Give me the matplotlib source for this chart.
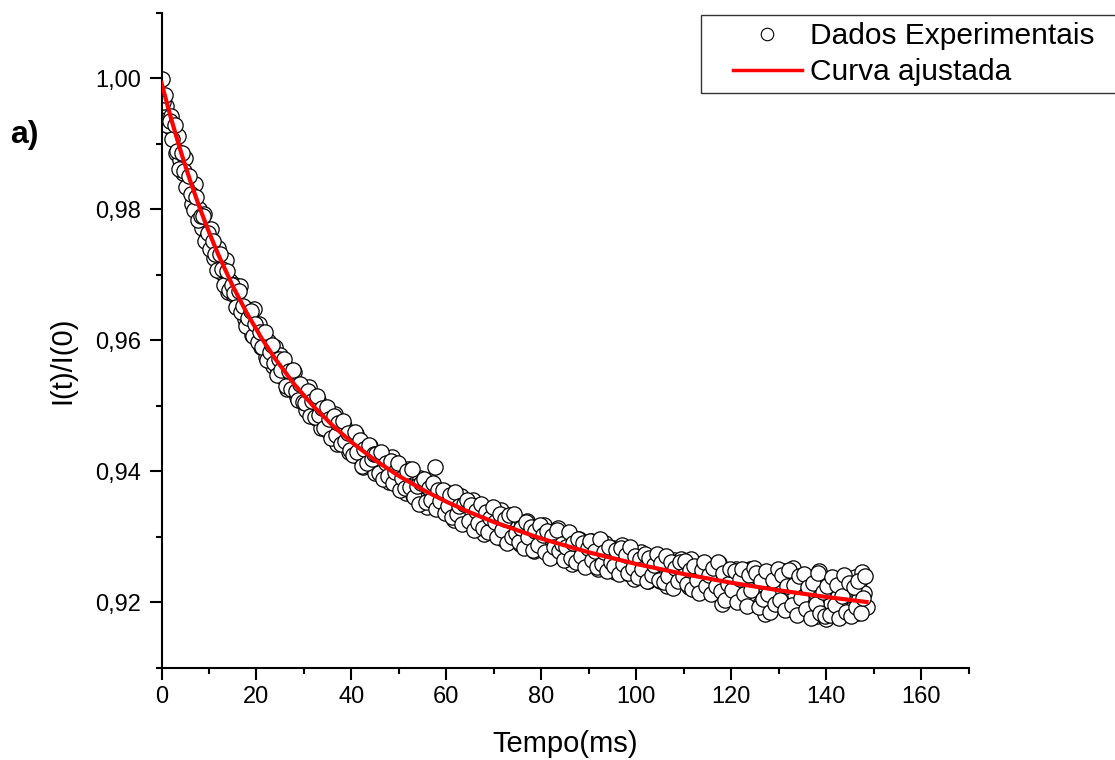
import numpy as np
import matplotlib
matplotlib.use("Agg")
import matplotlib.pyplot as plt
from matplotlib.ticker import FixedLocator, FuncFormatter
from matplotlib.patches import Rectangle
from matplotlib.lines import Line2D

plt.rcParams['font.family'] = ['Liberation Sans', 'DejaVu Sans']

# experimental points read off the figure, sampled every 0.25 ms
# (two interleaved lists: t = 0, 0.5, 1, ... and t = 0.25, 0.75, ...)
dt = 0.5
intensidade_a = [
    0.9999, 0.9949, 0.9957, 0.9927, 0.9943, 0.9908, 0.9886, 0.9912, 0.9875, 0.9856,
    0.9878, 0.9835, 0.9838, 0.9808, 0.9839, 0.9799, 0.9800, 0.9771, 0.9792, 0.9757,
    0.9756, 0.9770, 0.9726, 0.9734, 0.9741, 0.9704, 0.9707, 0.9723, 0.9674, 0.9690,
    0.9670, 0.9685, 0.9650, 0.9683, 0.9649, 0.9632, 0.9648, 0.9623, 0.9608, 0.9647,
    0.9608, 0.9625, 0.9590, 0.9602, 0.9574, 0.9599, 0.9579, 0.9560, 0.9589, 0.9556,
    0.9577, 0.9544, 0.9556, 0.9526, 0.9555, 0.9531, 0.9551, 0.9513, 0.9524, 0.9510,
    0.9526, 0.9493, 0.9528, 0.9496, 0.9502, 0.9481, 0.9509, 0.9466, 0.9492, 0.9477,
    0.9461, 0.9487, 0.9467, 0.9487, 0.9442, 0.9466, 0.9446, 0.9469, 0.9443, 0.9429,
    0.9455, 0.9441, 0.9457, 0.9421, 0.9435, 0.9407, 0.9439, 0.9415, 0.9438, 0.9407,
    0.9397, 0.9422, 0.9411, 0.9426, 0.9393, 0.9409, 0.9384, 0.9421, 0.9390, 0.9381,
    0.9407, 0.9381, 0.9394, 0.9367, 0.9403, 0.9379, 0.9364, 0.9389, 0.9368, 0.9389,
    0.9360, 0.9377, 0.9346, 0.9379, 0.9360, 0.9407, 0.9345, 0.9368, 0.9346, 0.9358,
    0.9369, 0.9338, 0.9354, 0.9326, 0.9358, 0.9338, 0.9362, 0.9325, 0.9342, 0.9329,
    0.9332, 0.9356, 0.9316, 0.9341, 0.9318, 0.9345, 0.9304, 0.9330, 0.9337, 0.9315,
    0.9305, 0.9331, 0.9314, 0.9341, 0.9297, 0.9321, 0.9303, 0.9331, 0.9310, 0.9295,
    0.9318, 0.9289, 0.9321, 0.9297, 0.9324, 0.9291, 0.9302, 0.9278, 0.9315, 0.9293,
    0.9283, 0.9318, 0.9292, 0.9306, 0.9272, 0.9299, 0.9281, 0.9313, 0.9272, 0.9291,
    0.9299, 0.9275, 0.9303, 0.9258, 0.9288, 0.9267, 0.9297, 0.9275, 0.9259, 0.9287,
    0.9268, 0.9293, 0.9258, 0.9278, 0.9250, 0.9285, 0.9267, 0.9291, 0.9257, 0.9275,
    0.9282, 0.9246, 0.9274, 0.9253, 0.9287, 0.9257, 0.9245, 0.9273, 0.9258, 0.9235,
    0.9264, 0.9244, 0.9277, 0.9249, 0.9266, 0.9233, 0.9257, 0.9269, 0.9237, 0.9259,
    0.9233, 0.9254, 0.9263, 0.9224, 0.9257, 0.9237, 0.9265, 0.9240, 0.9232, 0.9266,
    0.9237, 0.9254, 0.9223, 0.9266, 0.9231, 0.9218, 0.9246, 0.9253, 0.9224, 0.9240,
    0.9225, 0.9256, 0.9231, 0.9244, 0.9220, 0.9260, 0.9197, 0.9224, 0.9244, 0.9210,
    0.9238, 0.9214, 0.9251, 0.9222, 0.9206, 0.9241, 0.9228, 0.9208, 0.9251, 0.9216,
    0.9210, 0.9241, 0.9198, 0.9228, 0.9182, 0.9232, 0.9209, 0.9244, 0.9214, 0.9200,
    0.9230, 0.9196, 0.9247, 0.9208, 0.9232, 0.9190, 0.9252, 0.9211, 0.9196, 0.9235,
    0.9206, 0.9227, 0.9184, 0.9236, 0.9198, 0.9217, 0.9179, 0.9248, 0.9189, 0.9218,
    0.9175, 0.9223, 0.9199, 0.9229, 0.9182, 0.9209, 0.9232, 0.9189, 0.9214, 0.9183,
    0.9221, 0.9190, 0.9238, 0.9183, 0.9231, 0.9246, 0.9214, 0.9193,
]
intensidade_b = [
    0.9964, 0.9975, 0.9928, 0.9935, 0.9907, 0.9928, 0.9889, 0.9862, 0.9886, 0.9858,
    0.9834, 0.9850, 0.9823, 0.9799, 0.9818, 0.9784, 0.9789, 0.9790, 0.9751, 0.9764,
    0.9740, 0.9752, 0.9731, 0.9707, 0.9732, 0.9709, 0.9685, 0.9706, 0.9677, 0.9684,
    0.9672, 0.9650, 0.9675, 0.9643, 0.9652, 0.9621, 0.9634, 0.9644, 0.9607, 0.9624,
    0.9597, 0.9613, 0.9590, 0.9613, 0.9570, 0.9582, 0.9592, 0.9565, 0.9547, 0.9571,
    0.9555, 0.9571, 0.9530, 0.9553, 0.9526, 0.9555, 0.9523, 0.9508, 0.9533, 0.9505,
    0.9504, 0.9523, 0.9485, 0.9507, 0.9482, 0.9515, 0.9486, 0.9496, 0.9466, 0.9498,
    0.9479, 0.9451, 0.9485, 0.9455, 0.9474, 0.9441, 0.9477, 0.9446, 0.9458, 0.9433,
    0.9425, 0.9460, 0.9429, 0.9448, 0.9408, 0.9434, 0.9412, 0.9440, 0.9418, 0.9426,
    0.9427, 0.9398, 0.9430, 0.9388, 0.9413, 0.9392, 0.9415, 0.9382, 0.9399, 0.9412,
    0.9371, 0.9389, 0.9374, 0.9401, 0.9376, 0.9403, 0.9361, 0.9378, 0.9350, 0.9382,
    0.9388, 0.9353, 0.9375, 0.9356, 0.9382, 0.9342, 0.9372, 0.9355, 0.9372, 0.9336,
    0.9347, 0.9363, 0.9330, 0.9369, 0.9334, 0.9347, 0.9320, 0.9350, 0.9356, 0.9324,
    0.9349, 0.9310, 0.9339, 0.9321, 0.9350, 0.9314, 0.9337, 0.9307, 0.9329, 0.9345,
    0.9322, 0.9300, 0.9334, 0.9310, 0.9327, 0.9290, 0.9333, 0.9300, 0.9335, 0.9306,
    0.9292, 0.9314, 0.9283, 0.9323, 0.9299, 0.9315, 0.9280, 0.9309, 0.9287, 0.9318,
    0.9303, 0.9277, 0.9308, 0.9267, 0.9301, 0.9284, 0.9310, 0.9278, 0.9289, 0.9265,
    0.9285, 0.9307, 0.9268, 0.9291, 0.9262, 0.9297, 0.9271, 0.9291, 0.9254, 0.9282,
    0.9294, 0.9265, 0.9278, 0.9254, 0.9297, 0.9258, 0.9277, 0.9248, 0.9284, 0.9262,
    0.9256, 0.9280, 0.9243, 0.9283, 0.9259, 0.9272, 0.9245, 0.9284, 0.9252, 0.9271,
    0.9238, 0.9266, 0.9250, 0.9273, 0.9232, 0.9267, 0.9241, 0.9257, 0.9273, 0.9234,
    0.9260, 0.9231, 0.9271, 0.9240, 0.9262, 0.9221, 0.9252, 0.9232, 0.9262, 0.9240,
    0.9263, 0.9228, 0.9249, 0.9220, 0.9256, 0.9234, 0.9214, 0.9249, 0.9261, 0.9225,
    0.9241, 0.9213, 0.9252, 0.9225, 0.9261, 0.9217, 0.9244, 0.9204, 0.9228, 0.9251,
    0.9219, 0.9248, 0.9201, 0.9235, 0.9251, 0.9212, 0.9194, 0.9242, 0.9219, 0.9252,
    0.9245, 0.9193, 0.9232, 0.9205, 0.9247, 0.9213, 0.9185, 0.9234, 0.9197, 0.9250,
    0.9203, 0.9242, 0.9188, 0.9225, 0.9249, 0.9195, 0.9227, 0.9181, 0.9240, 0.9207,
    0.9243, 0.9190, 0.9223, 0.9176, 0.9230, 0.9198, 0.9245, 0.9184, 0.9216, 0.9179,
    0.9224, 0.9180, 0.9239, 0.9195, 0.9227, 0.9176, 0.9210, 0.9241, 0.9185, 0.9229,
    0.9179, 0.9223, 0.9192, 0.9232, 0.9184, 0.9207, 0.9240,
]
tempo_a = np.arange(len(intensidade_a)) * dt
tempo_b = np.arange(len(intensidade_b)) * dt + dt / 2
tempo = np.concatenate([tempo_a, tempo_b])
intensidade = np.concatenate([intensidade_a, intensidade_b])

# fitted curve, sampled from the red line
tempo_ajuste = [0, 2, 4, 6, 8, 10, 12, 15, 18, 21, 24, 28, 32, 36, 40, 45, 50,
                55, 60, 65, 70, 80, 90, 100, 110, 120, 130, 140, 148.5]
curva_ajuste = [0.99928, 0.99388, 0.98895, 0.98443, 0.98029, 0.97649, 0.97300,
                0.96828, 0.96410, 0.96040, 0.95711, 0.95324, 0.94991, 0.94701,
                0.94445, 0.94167, 0.93927, 0.93718, 0.93534, 0.93370, 0.93224,
                0.92971, 0.92761, 0.92583, 0.92430, 0.92297, 0.92182, 0.92080,
                0.92003]

W, H = 1115, 760
fig = plt.figure(figsize=(W / 100, H / 100), dpi=100)
ax = fig.add_axes([161.5 / W, 1 - 667.7 / H, (968.7 - 161.5) / W, (667.7 - 12.7) / H])

ax.plot(tempo, intensidade, 'o', ms=11, mfc='white', mec='black', mew=0.9, zorder=2)
ax.plot(tempo_ajuste, curva_ajuste, color='red', lw=3, zorder=3)

ax.set_xlim(0, 170)
ax.set_ylim(0.91, 1.01)
ax.xaxis.set_major_locator(FixedLocator(np.arange(0, 161, 20)))
ax.xaxis.set_minor_locator(FixedLocator(np.arange(10, 171, 20)))
ax.yaxis.set_major_locator(FixedLocator([0.92, 0.94, 0.96, 0.98, 1.00]))
ax.yaxis.set_minor_locator(FixedLocator([0.91, 0.93, 0.95, 0.97, 0.99, 1.01]))
ax.xaxis.set_major_formatter(FuncFormatter(lambda v, p: f"{v:.0f}"))
ax.yaxis.set_major_formatter(FuncFormatter(lambda v, p: f"{v:.2f}".replace('.', ',')))

for s in ['top', 'right']:
    ax.spines[s].set_visible(False)
for s in ['left', 'bottom']:
    ax.spines[s].set_linewidth(1.5)
ax.tick_params(which='both', direction='out', width=1.5, labelsize=17)
ax.tick_params(which='major', length=8.5)
ax.tick_params(which='minor', length=4.5)
ax.tick_params(axis='x', pad=5)
ax.tick_params(axis='y', pad=6.5)

fig.text(565.5 / W, 1 - 752 / H, 'Tempo(ms)', fontsize=21, ha='center', va='baseline')
fig.text(70 / W, 1 - 360 / H, 'I(t)/I(0)', fontsize=21, rotation=90,
         rotation_mode='anchor', ha='center', va='baseline')
fig.text(10 / W, 1 - 143 / H, 'a)', fontsize=23, fontweight='bold', ha='left', va='baseline')

# legend box
fig.patches.append(Rectangle((701 / W, 1 - 93 / H), 430 / W, 78 / H, transform=fig.transFigure,
                             fill=False, ec='#333333', lw=1.0))
handles = [Line2D([], [], ls='none', marker='o', ms=9, mfc='white', mec='black', mew=0.8),
           Line2D([], [], color='red', lw=2.5)]
fig.legend(handles, ['Dados Experimentais', 'Curva ajustada'], loc='upper left',
           bbox_to_anchor=(733 / W, 1 - 22 / H), frameon=False, fontsize=21.5,
           handlelength=2.3, handletextpad=0.27, borderpad=0, borderaxespad=0,
           labelspacing=0.28)

fig.savefig('out.png', dpi=100)
